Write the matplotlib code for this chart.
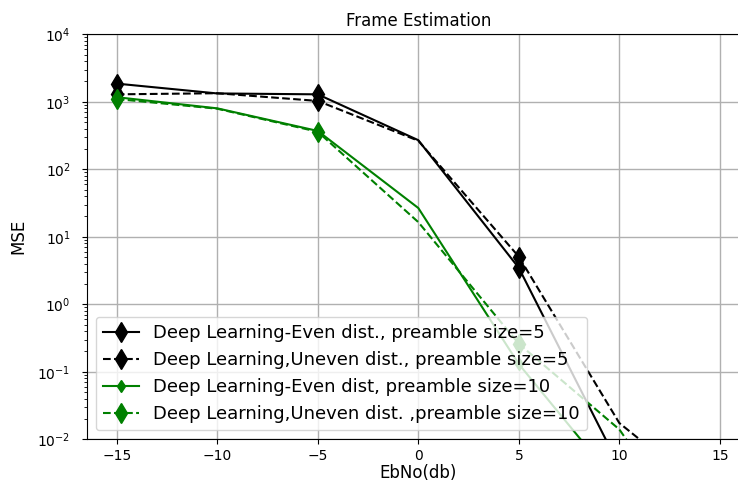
import numpy as np
import matplotlib
matplotlib.use("Agg")
import matplotlib.pyplot as plt

# EbNo values (db)
ebno = [-15, -10, -5, 0, 5, 10, 15]

# MSE per method
mse_even_5 = [1860, 1330, 1290, 270, 3.46, 0.004, 0.0001]
mse_uneven_5 = [1290, 1340, 1030, 265, 5.07, 0.0174, 0.0011]
mse_even_10 = [1170, 800, 370, 26.7, 0.13, 0.002, 0.0001]
mse_uneven_10 = [1100, 790, 360, 16.5, 0.26, 0.014, 0.0001]

labels = ["Deep Learning-Even dist., preamble size=5",
          "Deep Learning,Uneven dist., preamble size=5",
          "Deep Learning-Even dist, preamble size=10",
          "Deep Learning,Uneven dist. ,preamble size=10"]

fig = plt.figure(figsize=(7.38, 4.88), dpi=100)
ax = fig.add_axes([0.1173, 0.0998, 0.899, 0.8299])

ax.semilogy(ebno, mse_even_5, 'k-d', markevery=2, ms=10, lw=1.5, label=labels[0])
ax.semilogy(ebno, mse_uneven_5, 'k--d', markevery=2, ms=10, lw=1.5, label=labels[1])
ax.semilogy(ebno, mse_even_10, '-d', color='green', markevery=2, ms=6, lw=1.5, label=labels[2])
ax.semilogy(ebno, mse_uneven_10, '--d', color='green', markevery=2, ms=10, lw=1.5, label=labels[3])

ax.set_xlim(-16.5, 16.5)
ax.set_ylim(1e-2, 1e4)
ax.grid(True, which='major', color='#b0b0b0', lw=1)
ax.tick_params(axis='y', which='major', pad=8)
ax.set_title("Frame Estimation", fontsize=12)
ax.set_xlabel("EbNo(db)", fontsize=12, labelpad=0.5)
ax.set_ylabel("MSE", fontsize=12, labelpad=7)
ax.legend(loc='lower left', fontsize=13)

fig.savefig("out.png", dpi=100)
